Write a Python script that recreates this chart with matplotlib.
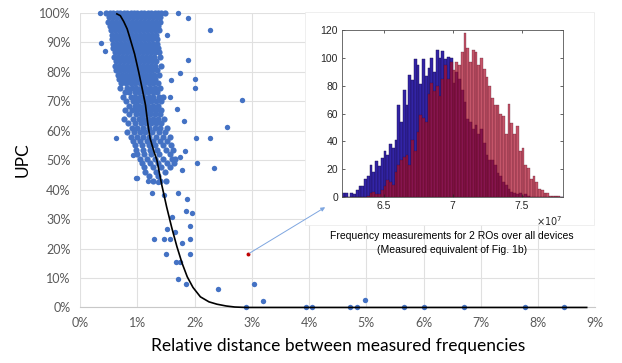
import matplotlib
matplotlib.use('Agg')
import matplotlib.pyplot as plt
from matplotlib.patches import Rectangle
from matplotlib.ticker import FuncFormatter

# outliers / sparse points of the UPC scatter (x in %, y in %)
sparseX = [0.35, 0.37, 0.43, 1.71, 1.89, 2.26, 1.51, 1.89, 1.74, 1.58, 2.00, 2.00, 1.57, 2.83,
           1.69, 1.82, 2.57, 0.63, 2.03, 2.27, 1.83, 1.74, 2.04, 2.33, 1.77, 0.97, 0.99, 1.19,
           1.26, 1.70, 1.87, 1.85, 1.95, 1.60, 1.92, 1.52, 1.65, 1.29, 1.46, 1.57, 1.92, 1.78,
           1.50, 1.91, 1.67, 1.74, 1.70, 1.85, 2.41, 3.04, 3.20, 2.89, 0.93, 1.36, 1.46,
           3.94, 4.05, 4.72, 4.83, 4.97, 5.66, 6.01, 6.70, 7.77, 8.46]
sparseY = [100, 89.8, 87.0, 100, 98.1, 94.3, 92.6, 83.9, 79.6, 77.1, 77.4, 74.5, 71.5, 70.5,
           67.2, 63.1, 61.2, 57.4, 57.4, 57.4, 53.2, 51.1, 48.9, 47.2, 46.6, 44.0, 44.0, 43.0,
           38.7, 38.7, 36.8, 32.8, 31.9, 30.8, 27.6, 26.6, 25.6, 23.2, 23.2, 23.2, 23.2, 21.9,
           18.1, 18.1, 15.5, 15.5, 9.7, 7.9, 6.2, 7.9, 2.3, 0, 51.7, 42.6, 38.0,
           0, 0, 0, 0, 2.5, 0, 0, 0, 0, 0]

# dense cloud, one row of x values per UPC level
cloudRows = {
    100: [0.45, 0.52, 0.58, 0.64, 0.70, 0.76, 0.82, 0.88, 0.94, 1.00, 1.06, 1.12, 1.18, 1.24, 1.30, 1.36, 1.42, 1.48],
    98.5: [0.50, 0.57, 0.64, 0.71, 0.78, 0.85, 0.92, 0.99, 1.06, 1.13, 1.20, 1.27, 1.34, 1.40],
    97: [0.48, 0.55, 0.62, 0.69, 0.76, 0.83, 0.90, 0.97, 1.04, 1.11, 1.18, 1.25, 1.32, 1.39],
    95.5: [0.52, 0.59, 0.66, 0.73, 0.80, 0.87, 0.94, 1.01, 1.08, 1.15, 1.22, 1.29, 1.36],
    94: [0.54, 0.61, 0.68, 0.75, 0.82, 0.89, 0.96, 1.03, 1.10, 1.17, 1.24, 1.31, 1.38],
    92.5: [0.55, 0.62, 0.69, 0.76, 0.83, 0.90, 0.97, 1.04, 1.11, 1.18, 1.25, 1.32],
    91: [0.56, 0.63, 0.70, 0.77, 0.84, 0.91, 0.98, 1.05, 1.12, 1.19, 1.26, 1.35],
    89.5: [0.57, 0.64, 0.71, 0.78, 0.85, 0.92, 0.99, 1.06, 1.13, 1.20, 1.27, 1.34],
    88: [0.58, 0.65, 0.72, 0.79, 0.86, 0.93, 1.00, 1.07, 1.14, 1.21, 1.28, 1.36],
    86.5: [0.60, 0.67, 0.74, 0.81, 0.88, 0.95, 1.02, 1.09, 1.16, 1.23, 1.30, 1.37],
    85: [0.59, 0.66, 0.73, 0.80, 0.87, 0.94, 1.01, 1.08, 1.15, 1.22, 1.29, 1.40],
    83.5: [0.62, 0.69, 0.76, 0.83, 0.90, 0.97, 1.04, 1.11, 1.18, 1.25, 1.33],
    82: [0.61, 0.68, 0.75, 0.82, 0.89, 0.96, 1.03, 1.10, 1.17, 1.24, 1.31, 1.42],
    80.5: [0.63, 0.70, 0.77, 0.84, 0.91, 0.98, 1.05, 1.12, 1.19, 1.26, 1.35],
    79: [0.66, 0.73, 0.80, 0.87, 0.94, 1.01, 1.08, 1.15, 1.22, 1.29, 1.38],
    77.5: [0.68, 0.76, 0.84, 0.92, 1.00, 1.08, 1.16, 1.24, 1.31],
    76: [0.72, 0.80, 0.88, 0.96, 1.04, 1.12, 1.20, 1.28, 1.36],
    74.5: [0.70, 0.82, 0.90, 0.98, 1.06, 1.14, 1.22, 1.30, 1.40],
    73: [0.78, 0.86, 0.95, 1.03, 1.11, 1.19, 1.27, 1.35],
    71.5: [0.74, 0.88, 0.96, 1.04, 1.12, 1.20, 1.28, 1.38, 1.45],
    70: [0.80, 0.92, 1.00, 1.08, 1.16, 1.24, 1.32, 1.42],
    68.5: [0.85, 0.95, 1.03, 1.11, 1.19, 1.27, 1.36],
    67: [0.78, 0.90, 1.00, 1.08, 1.16, 1.24, 1.33, 1.41],
    65.5: [0.86, 0.98, 1.06, 1.14, 1.22, 1.30, 1.40],
    64: [0.76, 0.92, 1.02, 1.10, 1.18, 1.28, 1.36, 1.46],
    62.5: [0.84, 0.96, 1.06, 1.15, 1.24, 1.33, 1.42],
    61: [0.90, 1.00, 1.10, 1.20, 1.30, 1.40, 1.52],
    59.5: [0.82, 0.94, 1.04, 1.14, 1.26, 1.38, 1.48],
    58: [0.88, 1.00, 1.10, 1.20, 1.32, 1.44, 1.56],
    56.5: [0.92, 1.04, 1.16, 1.28, 1.40, 1.52],
    55: [0.96, 1.08, 1.20, 1.30, 1.44, 1.58],
    53.5: [0.98, 1.10, 1.22, 1.34, 1.50, 1.62],
    52: [1.00, 1.12, 1.24, 1.38, 1.56],
    50.5: [1.04, 1.16, 1.30, 1.44, 1.60, 1.66],
    49: [1.08, 1.22, 1.36, 1.52, 1.63],
    47.5: [1.12, 1.28, 1.42, 1.56],
    46: [1.14, 1.32, 1.48],
    44.5: [1.20, 1.36],
    43: [1.28, 1.40, 1.50],
}

# highlighted pair (red point)
redX, redY = 2.94, 18.2

# fitted curve
curveX = [0.64, 0.70, 0.76, 0.82, 0.87, 0.95, 1.02, 1.08, 1.14, 1.18, 1.22, 1.29, 1.34, 1.42,
          1.51, 1.60, 1.69, 1.78, 1.87, 1.97, 2.10, 2.25, 2.39, 2.55, 2.70, 2.90, 3.50, 8.85]
curveY = [99.6, 99.0, 97.0, 94.5, 91.3, 86.0, 80.0, 74.5, 68.7, 62.5, 57.4, 52.8, 50.0, 42.0,
          34.1, 27.0, 20.6, 15.0, 10.4, 6.8, 3.6, 1.9, 1.1, 0.5, 0.15, 0, 0, 0]

# inset histogram: bin centres (x1e7) and counts of the two ROs
binCentres = [6.21 + 0.02 * i for i in range(80)]
ro1Counts = [3, 3, 0, 3, 2, 5, 8, 8, 13, 15, 23, 18, 26, 22, 28, 33, 30, 38, 35, 41,
             66, 54, 77, 66, 88, 84, 99, 95, 81, 99, 87, 93, 100, 90, 106, 100, 105, 99, 101, 100,
             82, 90, 85, 77, 68, 56, 54, 49, 52, 45, 49, 39, 30, 27, 27, 23, 17, 15, 11, 9,
             6, 4, 3, 2, 3, 1, 2, 1, 0, 0, 0, 0, 0, 0, 0, 0, 0, 0, 0, 0]
ro2Counts = [0, 0, 0, 0, 0, 0, 0, 0, 0, 1, 3, 4, 2, 2, 5, 8, 12, 11, 9, 18,
             23, 27, 29, 30, 23, 41, 33, 47, 59, 57, 54, 74, 82, 76, 80, 73, 85, 95, 85, 97,
             91, 97, 95, 104, 118, 107, 97, 106, 104, 95, 100, 92, 86, 80, 71, 66, 66, 60, 58, 45,
             67, 53, 45, 51, 33, 35, 23, 21, 13, 15, 11, 6, 5, 3, 3, 1, 1, 1, 1, 0]

fig = plt.figure(figsize=(6.22, 3.63), dpi=100)
ax = fig.add_axes([0.129, 0.153, 0.828, 0.812])

cloudX = []
cloudY = []
for yv, xs in cloudRows.items():
    cloudX += xs
    cloudY += [yv] * len(xs)

blue = '#4472C4'
ax.scatter(cloudX, cloudY, s=20, color=blue, linewidths=0, clip_on=False, zorder=3)
ax.scatter(sparseX, sparseY, s=15, color=blue, linewidths=0, clip_on=False, zorder=3)
ax.plot(curveX, curveY, color='black', lw=1.2, zorder=4, clip_on=False)
ax.scatter([redX], [redY], s=8, color='#C00000', linewidths=0, zorder=5)

ax.set_xlim(0, 9)
ax.set_ylim(0, 100)
ax.set_xticks(range(0, 10))
ax.set_yticks(range(0, 101, 10))
ax.xaxis.set_major_formatter(FuncFormatter(lambda v, p: '%d%%' % v))
ax.yaxis.set_major_formatter(FuncFormatter(lambda v, p: '%d%%' % v))
ax.grid(True, color='#e0e0e0', lw=0.8)
ax.set_axisbelow(True)
for s in ['top', 'right', 'left']:
    ax.spines[s].set_visible(False)
ax.spines['bottom'].set_color('#c8c8c8')
ax.tick_params(length=0, labelsize=9, labelcolor='#595959', pad=7)
for lab in ax.get_xticklabels() + ax.get_yticklabels():
    lab.set_family('Lato')
ax.set_xlabel('Relative distance between measured frequencies', fontsize=12.5,
              family='Lato', labelpad=6)
ax.set_ylabel('UPC', fontsize=12.5, family='Lato', labelpad=6)

# white background of the pasted inset
ax.add_patch(Rectangle((0.490, 0.380), 0.465, 0.587, transform=fig.transFigure,
                       facecolor='white', edgecolor='#ececec', lw=0.6, zorder=6,
                       clip_on=False))

ax.annotate('', xy=(4.28, 34.0), xytext=(redX, redY),
            arrowprops=dict(arrowstyle='-|>', color='#7ea6e0', lw=0.7, mutation_scale=6,
                            shrinkA=1, shrinkB=0),
            zorder=7, annotation_clip=False)

# inset histogram
ins = fig.add_axes([0.550, 0.457, 0.355, 0.460], zorder=3)
ins.bar(binCentres, ro1Counts, width=0.02, color='#3224a6', edgecolor='#1a1050', lw=0.3)
ins.bar(binCentres, ro2Counts, width=0.02, color=(0.67, 0.06, 0.17, 0.7),
        edgecolor=(0.25, 0.02, 0.1, 0.6), lw=0.3)
ins.set_xlim(6.2, 7.8)
ins.set_ylim(0, 120)
ins.set_xticks([6.5, 7, 7.5])
ins.set_xticklabels(['6.5', '7', '7.5'])
ins.set_yticks(range(0, 121, 20))
ins.tick_params(direction='in', length=2.5, width=0.5, top=True, right=True,
                labelsize=7.5, labelcolor='#262626', color='#262626', pad=3)
for lab in ins.get_xticklabels() + ins.get_yticklabels():
    lab.set_family('Liberation Sans')
for s in ins.spines.values():
    s.set_color('#555555')
    s.set_linewidth(0.6)
ins.text(1.0, -0.145, r'$\times10^7$', transform=ins.transAxes, ha='right', va='center',
         fontsize=7, color='#262626')

fig.text(0.727, 0.350, 'Frequency measurements for 2 ROs over all devices', ha='center',
         va='center', fontsize=7.5, family='Liberation Sans', zorder=8)
fig.text(0.727, 0.311, '(Measured equivalent of Fig. 1b)', ha='center', va='center',
         fontsize=7.5, family='Liberation Sans', zorder=8)

fig.savefig('out.png', dpi=100, facecolor='white')
